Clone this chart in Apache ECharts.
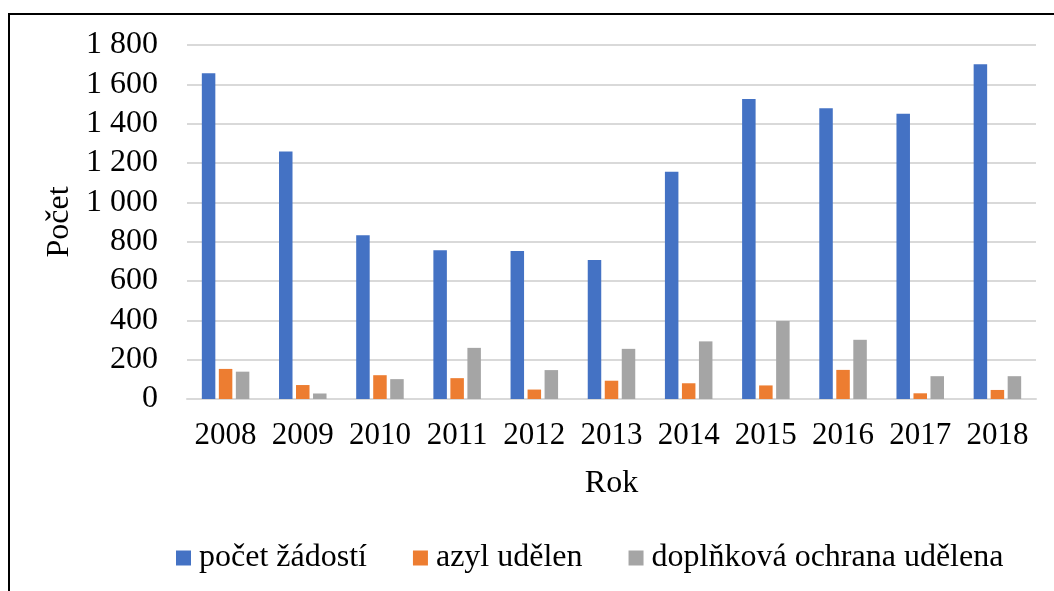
<!DOCTYPE html>
<html lang="cs">
<head>
    <meta charset="UTF-8">
    <title>Azyl</title>
    <script src="https://cdn.jsdelivr.net/npm/echarts@6/dist/echarts.min.js"></script>
    <style>
        html, body { margin: 0; padding: 0; background: #fff; }
    </style>
</head>
<body>
<div id="main" style="width: 1054px; height: 591px;"></div>

<script type="text/javascript">
    var years = ['2008', '2009', '2010', '2011', '2012', '2013', '2014', '2015', '2016', '2017', '2018'];
    var zadosti = [1656, 1258, 833, 756, 752, 707, 1156, 1525, 1478, 1450, 1702];
    var azyl = [153, 71, 121, 106, 48, 93, 80, 69, 148, 29, 46];
    var doplnkova = [139, 28, 101, 260, 147, 255, 293, 397, 301, 116, 116];
    var seriesNames = ['počet žádostí', 'azyl udělen', 'doplňková ochrana udělena'];
    var colors = ['#4472C4', '#ED7D31', '#A5A5A5'];

    var font = '"Liberation Serif", "Times New Roman", serif';
    var fs = 32;
    var myChart = echarts.init(document.getElementById('main'));

    function bar(name, data, color) {
        return {
            name: name,
            type: 'bar',
            data: data,
            barWidth: 13.5,
            barGap: '26%',
            itemStyle: { color: color }
        };
    }

    myChart.setOption({
        animation: false,
        textStyle: { fontFamily: font, color: '#000' },
        graphic: [{
            type: 'rect',
            shape: { x: 9, y: 14, width: 1100, height: 640 },
            style: { fill: 'none', stroke: '#000', lineWidth: 2 }
        }],
        legend: {
            left: 171,
            top: 537,
            itemWidth: 15,
            itemHeight: 15,
            itemGap: 46,
            icon: 'rect',
            textStyle: { fontFamily: font, fontSize: fs, color: '#000', padding: [0, 0, 0, 3] },
            data: seriesNames
        },
        grid: { left: 187, right: 18, top: 45, bottom: 192 },
        xAxis: {
            type: 'category',
            data: years,
            name: 'Rok',
            nameLocation: 'middle',
            nameGap: 69,
            nameTextStyle: { fontFamily: font, fontSize: fs, color: '#000' },
            axisLine: { lineStyle: { color: '#d9d9d9', width: 2 } },
            axisTick: { show: false },
            axisLabel: { fontFamily: font, fontSize: 31, color: '#000', margin: 21, interval: 0 }
        },
        yAxis: {
            type: 'value',
            min: 0,
            max: 1800,
            interval: 200,
            name: 'Počet',
            nameLocation: 'middle',
            nameGap: 110,
            nameTextStyle: { fontFamily: font, fontSize: fs, color: '#000' },
            axisLine: { show: false },
            axisTick: { show: false },
            splitLine: { lineStyle: { color: '#d9d9d9', width: 2 } },
            axisLabel: {
                fontFamily: font, fontSize: fs, color: '#000', margin: 29,
                formatter: function (v) {
                    return String(v).replace(/\B(?=(\d{3})+(?!\d))/g, '\u00a0');
                }
            }
        },
        series: [
            bar(seriesNames[0], zadosti, colors[0]),
            bar(seriesNames[1], azyl, colors[1]),
            bar(seriesNames[2], doplnkova, colors[2])
        ]
    });
</script>
</body>
</html>
